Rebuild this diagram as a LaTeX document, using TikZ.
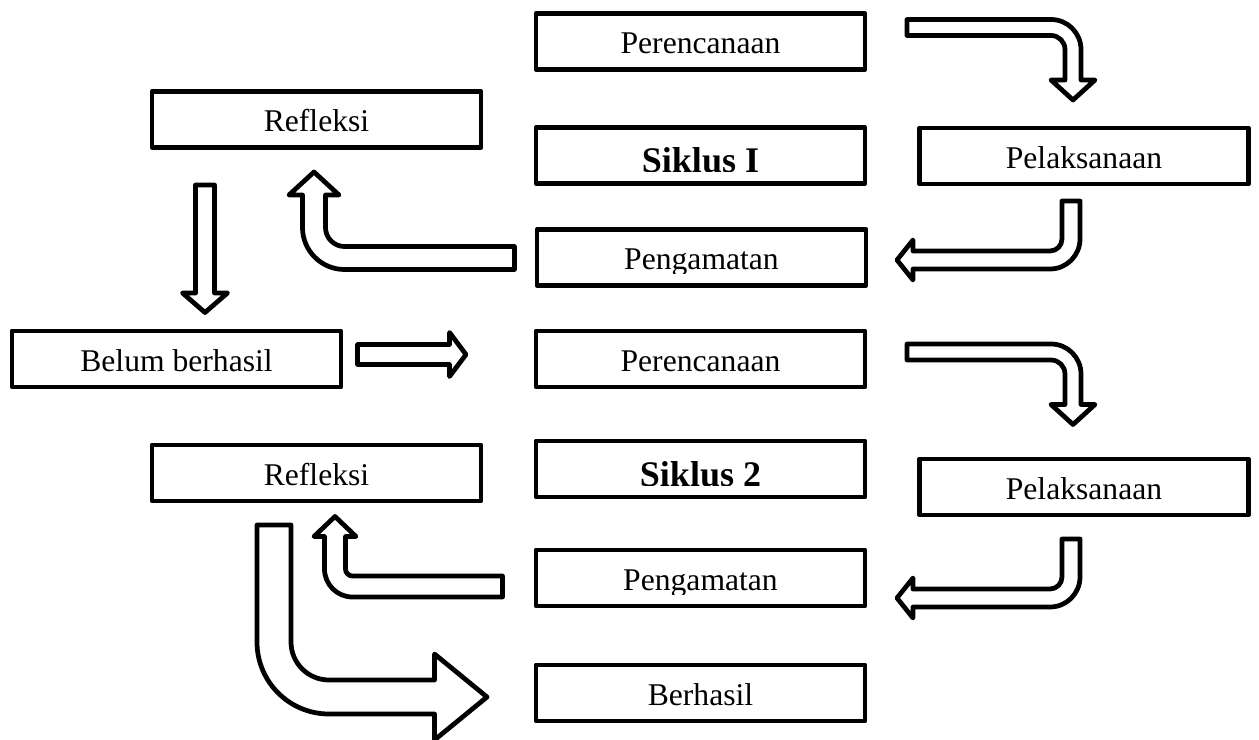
\documentclass[tikz,border=0pt]{standalone}
\usepackage{fontspec}
\setmainfont{Liberation Serif}
\usepackage{tikz}
\tikzset{kotak/.style={draw, line width=2.8pt, line join=round, outer sep=0pt, inner sep=0pt, minimum width=6.58cm, minimum height=1.12cm, font=\fontsize{18}{21}\selectfont, text height=13.8pt, text depth=0pt}}
\tikzset{judul/.style={inner sep=0pt, font=\bfseries\fontsize{20.5}{24}\selectfont, text height=19.6pt, text depth=0pt}}
\tikzset{isi/.style={inner sep=0pt, font=\fontsize{18}{21}\selectfont, text height=13.8pt, text depth=0pt}}
\tikzset{panah/.style={draw, fill=white, line width=2.7pt, line join=round}}

\begin{document}
\begin{tikzpicture}[x=0.02cm, y=-0.02cm]

	\useasboundingbox (0,0) rectangle (1259,740);

	% siklus I
	\node [kotak] (per1) at (700.5,41.5) {Perencanaan};
	\node [kotak] (sik1) at (700.5,155.5) {};
	\node [kotak] (pen1) at (701.5,257.5) {};
	\node [kotak] (ref1) at (316.5,119.5) {Refleksi};
	\node [kotak] (pel1) at (1084,156) {Pelaksanaan};
	\begin{scope}
		\clip (sik1.north west) rectangle ([yshift=6.8pt]sik1.south east);
		\node [judul] (tsik1) at (sik1.center) {Siklus I};
	\end{scope}
	\begin{scope}
		\clip (pen1.north west) rectangle ([yshift=6.8pt]pen1.south east);
		\node [isi] (tpen1) at (pen1.center) {Pengamatan};
	\end{scope}

	\node [kotak] (bel) at (176.5,359) {Belum berhasil};

	% siklus 2
	\node [kotak] (per2) at (700.5,359) {Perencanaan};
	\node [kotak] (sik2) at (700.5,469) {};
	\node [kotak] (pen2) at (700.5,578) {};
	\node [kotak] (ref2) at (316.5,473) {Refleksi};
	\node [kotak] (pel2) at (1084,487) {Pelaksanaan};
	\node [kotak] (ber) at (700.5,693) {Berhasil};
	\begin{scope}
		\clip (sik2.north west) rectangle ([yshift=6.8pt]sik2.south east);
		\node [judul] (tsik2) at (sik2.center) {Siklus 2};
	\end{scope}
	\begin{scope}
		\clip (pen2.north west) rectangle ([yshift=6.8pt]pen2.south east);
		\node [isi] (tpen2) at (pen2.center) {Pengamatan};
	\end{scope}

	% perencanaan -> pelaksanaan
	\draw [panah] (907,35.5) -- (907,19.5) -- (1051,19.5) arc [start angle=-90, end angle=0, radius=30] -- (1081,80) -- (1095,80) -- (1073,100) -- (1051,80) -- (1065,80) -- (1065,49.5) arc [start angle=0, end angle=-90, radius=14] -- cycle;
	\draw [panah, shift={(0,324.5)}] (907,35.5) -- (907,19.5) -- (1051,19.5) arc [start angle=-90, end angle=0, radius=30] -- (1081,80) -- (1095,80) -- (1073,100) -- (1051,80) -- (1065,80) -- (1065,49.5) arc [start angle=0, end angle=-90, radius=14] -- cycle;

	% pelaksanaan -> pengamatan
	\draw [panah] (1062,201) -- (1080,201) -- (1080,239) arc [start angle=0, end angle=90, radius=30] -- (913,269) -- (913,280) -- (897,260) -- (913,240) -- (913,251) -- (1050,251) arc [start angle=90, end angle=0, radius=12] -- cycle;
	\draw [panah, shift={(0,338)}] (1062,201) -- (1080,201) -- (1080,239) arc [start angle=0, end angle=90, radius=30] -- (913,269) -- (913,280) -- (897,260) -- (913,240) -- (913,251) -- (1050,251) arc [start angle=90, end angle=0, radius=12] -- cycle;

	% pengamatan -> refleksi
	\draw [panah] (514.5,246.5) -- (514.5,269.5) -- (344.5,269.5) arc [start angle=90, end angle=180, radius=42] -- (302.5,195) -- (289,195) -- (314,172) -- (339,195) -- (325.5,195) -- (325.5,227.5) arc [start angle=180, end angle=90, radius=19] -- cycle;
	\draw [panah] (502.5,576) -- (502.5,597) -- (352.5,597) arc [start angle=90, end angle=180, radius=28] -- (324.5,536.5) -- (314,536.5) -- (335,516.5) -- (356,536.5) -- (345.5,536.5) -- (345.5,569) arc [start angle=180, end angle=90, radius=7] -- cycle;

	% refleksi -> belum berhasil -> perencanaan
	\draw [panah] (195.5,185) -- (214.5,185) -- (214.5,293) -- (227.5,293) -- (205,312.5) -- (182.5,293) -- (195.5,293) -- cycle;
	\draw [panah] (357.5,344.5) -- (449.5,344.5) -- (449.5,332.5) -- (466,354.5) -- (449.5,376.5) -- (449.5,364.5) -- (357.5,364.5) -- cycle;

	% refleksi -> berhasil
	\draw [panah] (257,525) -- (291,525) -- (291,642) arc [start angle=180, end angle=90, radius=38] -- (434.5,680) -- (434.5,654) -- (487,697) -- (434.5,740) -- (434.5,714) -- (329,714) arc [start angle=90, end angle=180, radius=72] -- cycle;

\end{tikzpicture}
\end{document}
